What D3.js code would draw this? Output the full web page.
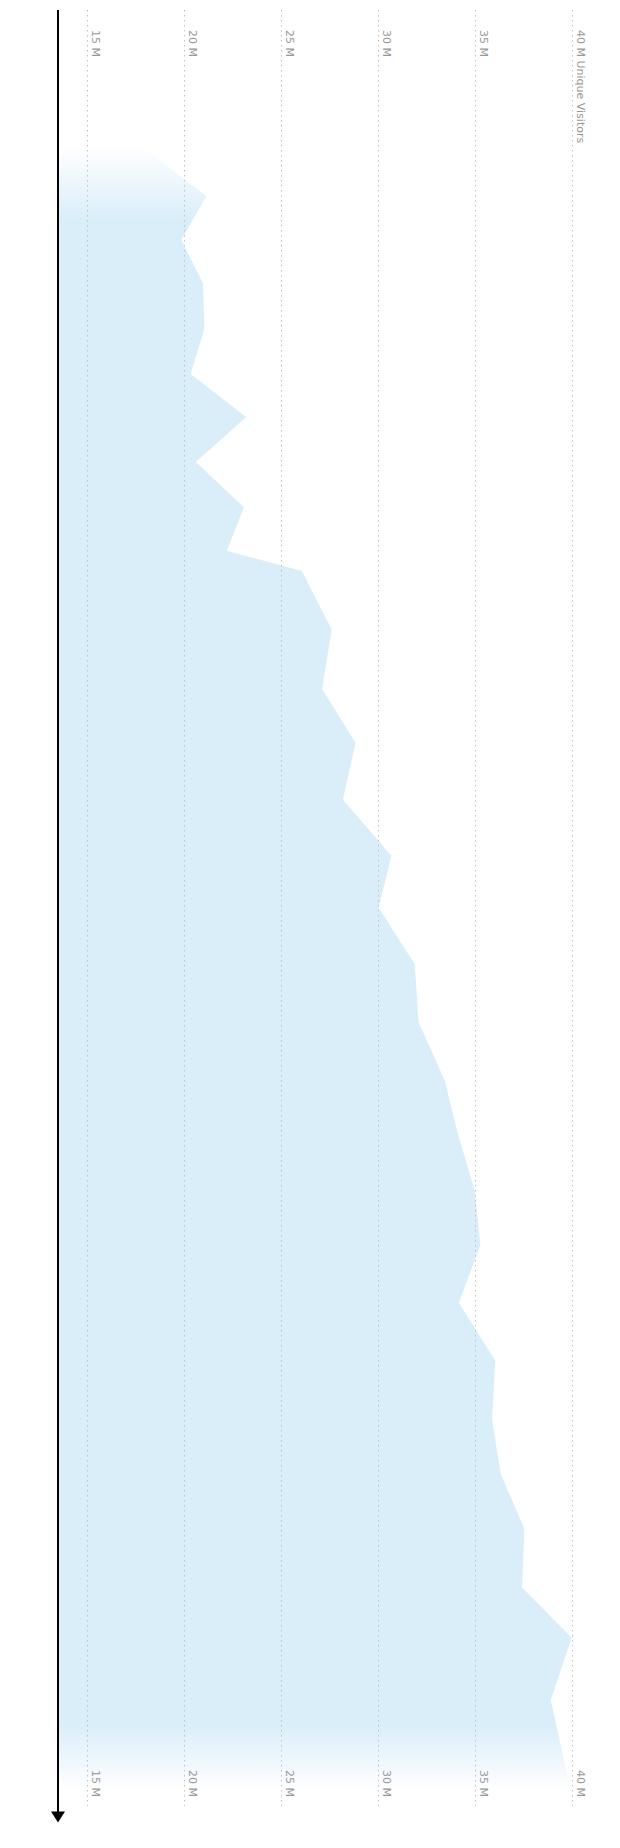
<!DOCTYPE html>
<html>
<head>
<meta charset="utf-8">
<script src="https://cdn.jsdelivr.net/npm/d3@7"></script>
<style>
  html, body { margin: 0; padding: 0; background: #fff; }
  svg { display: block; }
</style>
</head>
<body>
<div id="chart"></div>
<script>
// Time position (period index) of each observation, top to bottom
const periods = [7.52, 10.36, 12.81, 15.22, 17.78, 20.27, 22.66, 25.17, 27.69, 30.11,
  31.24, 34.50, 37.81, 40.80, 43.97, 47.09, 49.98, 53.12, 56.35, 59.63,
  62.54, 65.74, 68.76, 71.98, 75.21, 78.47, 81.53, 84.56, 87.84, 90.63,
  94.10, 99.16];
// Unique visitors (millions)
const visitors = [17.71, 21.15, 19.86, 20.98, 21.05, 20.34, 23.21, 20.61, 23.09, 22.21,
  26.08, 27.62, 27.12, 28.85, 28.20, 30.70, 30.04, 31.90, 32.10, 33.46,
  34.12, 35.00, 35.29, 34.18, 36.06, 35.89, 36.34, 37.56, 37.44, 40.00,
  38.92, 39.95];
const tickValues = [15, 20, 25, 30, 35, 40];
const tickLabels = ["15 M", "20 M", "25 M", "30 M", "35 M", "40 M"];
const axisTitle = "Unique Visitors";

const W = 620, H = 1848;
const data = periods.map((p, i) => ({ t: p, v: visitors[i] }));

const x = d3.scaleLinear().domain([13.5, 40]).range([58, 571.7]);
const y = d3.scaleLinear().domain([0, 100]).range([10, 1806]);

const svg = d3.select("#chart").append("svg")
  .attr("width", W).attr("height", H);

const defs = svg.append("defs");
const y0 = y(periods[0]), y1 = y(periods[periods.length - 1]);
const grad = defs.append("linearGradient")
  .attr("id", "fade")
  .attr("gradientUnits", "userSpaceOnUse")
  .attr("x1", 0).attr("x2", 0)
  .attr("y1", y0).attr("y2", y1);
[[0, 0], [0.045, 1], [0.96, 1], [1, 0]].forEach(([o, a]) => {
  grad.append("stop").attr("offset", o).attr("stop-color", "#daeef9").attr("stop-opacity", a);
});

// area
const area = d3.area()
  .y(d => y(d.t))
  .x0(x(13.5))
  .x1(d => x(d.v))
  .curve(d3.curveLinear);
svg.append("path").datum(data)
  .attr("d", area)
  .attr("fill", "url(#fade)");

// gridlines
svg.append("g").selectAll("line").data(tickValues).join("line")
  .attr("x1", d => Math.round(x(d)) + 0.5).attr("x2", d => Math.round(x(d)) + 0.5)
  .attr("y1", y(0)).attr("y2", y(100))
  .attr("stroke", "#c0c0c0")
  .attr("stroke-width", 1)
  .attr("stroke-dasharray", "1.5,3.5");

// labels top
const lab = svg.append("g")
  .attr("font-family", "DejaVu Sans")
  .attr("font-size", 11)
  .attr("fill", "#979797");
lab.selectAll("text.top").data(tickValues).join("text")
  .attr("class", "top")
  .attr("transform", d => `translate(${x(d) + 5},${y(0) + 20}) rotate(90)`)
  .text((d, i) => i === tickValues.length - 1 ? tickLabels[i] + " " + axisTitle : tickLabels[i]);
lab.selectAll("text.bot").data(tickValues).join("text")
  .attr("class", "bot")
  .attr("transform", d => `translate(${x(d) + 5},${y(100) - 36}) rotate(90)`)
  .text((d, i) => tickLabels[i]);

// time axis with arrow
const ax = x(13.5);
svg.append("line")
  .attr("x1", ax).attr("x2", ax)
  .attr("y1", y(0)).attr("y2", y(100) + 7)
  .attr("stroke", "#000").attr("stroke-width", 2);
svg.append("path")
  .attr("d", `M${ax - 7},${y(100) + 5.5} L${ax + 7},${y(100) + 5.5} L${ax},${y(100) + 16.5} Z`)
  .attr("fill", "#000");
</script>
</body>
</html>
